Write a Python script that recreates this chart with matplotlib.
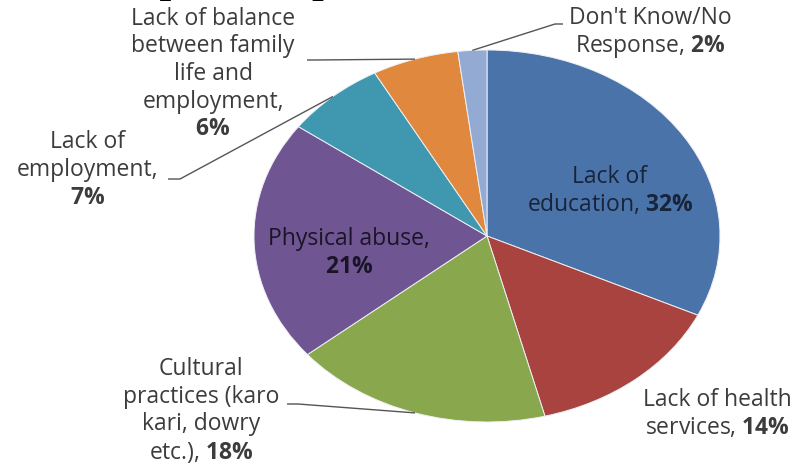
import numpy as np
import matplotlib
matplotlib.use("Agg")
import matplotlib.pyplot as plt

# ---- data ----
categories = ["Lack of\neducation", "Lack of health\nservices",
              "Cultural\npractices (karo\nkari, dowry\netc.)", "Physical abuse",
              "Lack of\nemployment", "Lack of balance\nbetween family\nlife and\nemployment",
              "Don't Know/No\nResponse"]
values = [32, 14, 18, 21, 7, 6, 2]
colors = ["#4a73a9", "#a8433f", "#89a74c", "#6f5592", "#3f98b0", "#e0883e", "#93aad3"]
title_text = "Graph 3: Impediments for Women"

plt.rcParams['font.family'] = ['Open Sans', 'DejaVu Sans']
plt.rcParams['mathtext.fontset'] = 'custom'
plt.rcParams['mathtext.rm'] = 'Open Sans'
plt.rcParams['mathtext.bf'] = 'Open Sans:bold'

W, H = 799, 465
fig = plt.figure(figsize=(W / 100, H / 100), dpi=100)
fig.patch.set_facecolor('white')

# pie geometry in pixels (ellipse, stretched like the reference)
cx, cy, rx, ry = 487, 236, 233, 186
ax = fig.add_axes([(cx - rx) / W, (H - (cy + ry)) / H, 2 * rx / W, 2 * ry / H])
wedges, _ = ax.pie(values, colors=colors, startangle=90, counterclock=False,
                   radius=1, wedgeprops=dict(edgecolor='#eef0f4', linewidth=0.7))
ax.set_aspect('auto')
ax.set_xlim(-1, 1)
ax.set_ylim(-1, 1)
ax.axis('off')


def d(px, py):
    return ((px - cx) / rx, (cy - py) / ry)


def label(i, text, pos, color='#3c3c3c'):
    x, y = d(*pos)
    ax.text(x, y, text, ha='center', va='center', multialignment='center',
            fontsize=16.5, color=color, linespacing=1.2, clip_on=False)


def full(i, sep):
    return f"{categories[i]}{sep}$\\mathbf{{{values[i]}\\%}}$"


label(0, full(0, ", "), (610, 191), color='#17243a')
label(1, full(1, ", "), (717, 414))
label(2, full(2, ", "), (201, 411))
label(3, full(3, ",\n"), (349, 253), color='#1a1526')
label(4, full(4, ",\n"), (88, 170))
label(5, full(5, ",\n"), (213, 74))
label(6, full(6, ", "), (650, 33))

# leader lines: from slice edge midpoint to label
leaders = {6: [(555, 24), (563, 24)],
           5: [(315, 60), (307, 60)],
           4: [(180, 179), (168, 179)],
           2: [(298, 404), (287, 404)]}
for i, pts in leaders.items():
    w = wedges[i]
    th = np.deg2rad((w.theta1 + w.theta2) / 2)
    xs = [np.cos(th)] + [d(*p)[0] for p in pts]
    ys = [np.sin(th)] + [d(*p)[1] for p in pts]
    ax.plot(xs, ys, color='#555555', lw=1.0, clip_on=False, solid_capstyle='butt')

# cut-off title at the very top
fig.text(88 / W, 1 + 8 / H, title_text, ha='left', va='baseline',
         family='Liberation Serif', fontweight='bold', fontsize=30, color='black')

fig.savefig("out.png", dpi=100)
